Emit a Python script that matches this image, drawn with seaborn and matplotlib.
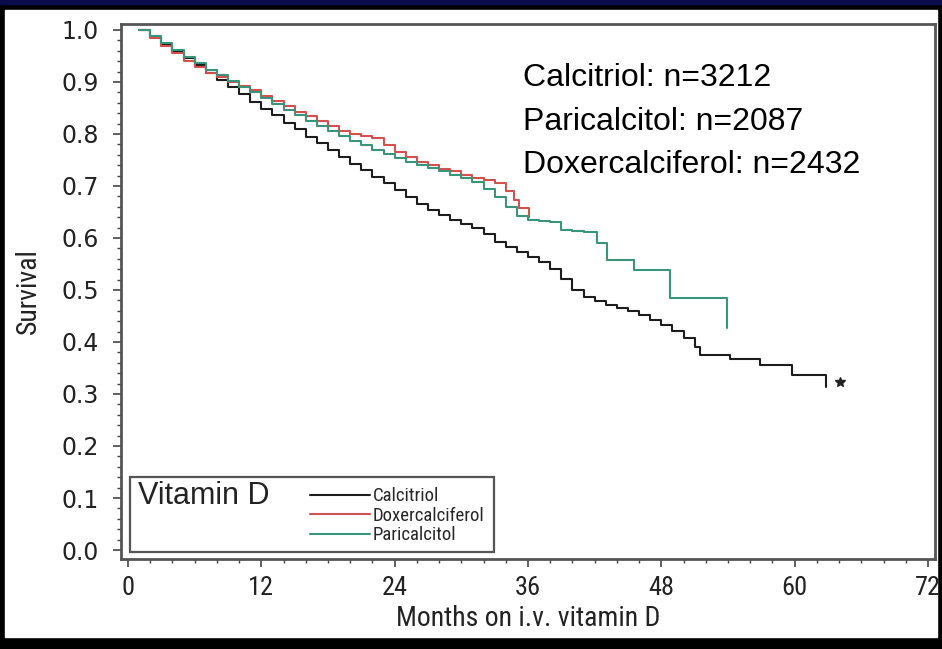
import matplotlib
matplotlib.use('Agg')
import matplotlib.pyplot as plt
from matplotlib import font_manager
from matplotlib.patches import Rectangle
from matplotlib.ticker import MultipleLocator
import pandas as pd
import seaborn as sns

# Kaplan-Meier curves (months, survival)
calcitriol_months = [1, 2, 3, 4, 5, 6, 7, 8, 9, 10, 11, 12, 13, 14, 15, 16, 17, 18, 19, 20,
                     21, 22, 23, 24, 25, 26, 27, 28, 29, 30, 31, 32, 33, 34, 35, 36, 37, 38, 39, 40,
                     41, 42, 43, 44, 45, 46, 47, 48, 49, 50, 51, 51.5, 54.2, 56.9, 59.8, 62.8]
calcitriol_surv = [1.000, 0.986, 0.973, 0.960, 0.946, 0.932, 0.918, 0.904, 0.890, 0.876,
                   0.862, 0.849, 0.836, 0.822, 0.809, 0.795, 0.782, 0.769, 0.756, 0.743,
                   0.731, 0.718, 0.706, 0.692, 0.678, 0.665, 0.654, 0.644, 0.635, 0.627,
                   0.619, 0.607, 0.593, 0.583, 0.574, 0.563, 0.553, 0.540, 0.522, 0.500,
                   0.486, 0.478, 0.471, 0.465, 0.459, 0.451, 0.442, 0.432, 0.421, 0.408,
                   0.390, 0.375, 0.368, 0.356, 0.337, 0.314]

doxer_months = [1, 2, 3, 4, 5, 6, 7, 8, 9, 10, 11, 12, 13, 14, 15, 16, 17, 18, 19, 20,
                21, 22, 23, 24, 25, 26, 27, 28, 29, 30, 31, 32, 33, 34, 34.7, 35.2, 36.1]
doxer_surv = [1.000, 0.985, 0.970, 0.955, 0.940, 0.928, 0.918, 0.909, 0.900, 0.893,
              0.884, 0.874, 0.864, 0.853, 0.843, 0.834, 0.825, 0.815, 0.806, 0.800,
              0.797, 0.793, 0.779, 0.765, 0.755, 0.747, 0.740, 0.733, 0.728, 0.722,
              0.715, 0.712, 0.705, 0.690, 0.673, 0.657, 0.641]

parical_months = [1, 2, 3, 4, 5, 6, 7, 8, 9, 10, 11, 12, 13, 14, 15, 16, 17, 18, 19, 20,
                  21, 22, 23, 24, 25, 26, 27, 28, 29, 30, 31, 32, 33, 34, 35, 36, 37, 38, 39, 40,
                  41, 42.2, 43.1, 45.5, 48.8, 53.9]
parical_surv = [1.000, 0.988, 0.975, 0.961, 0.948, 0.936, 0.924, 0.913, 0.902, 0.891,
                0.880, 0.869, 0.858, 0.847, 0.836, 0.825, 0.815, 0.805, 0.796, 0.787,
                0.778, 0.770, 0.762, 0.754, 0.746, 0.740, 0.734, 0.728, 0.722, 0.716,
                0.708, 0.695, 0.678, 0.660, 0.642, 0.635, 0.632, 0.630, 0.615, 0.613,
                0.612, 0.590, 0.558, 0.538, 0.484, 0.426]

groups = ['Calcitriol', 'Doxercalciferol', 'Paricalcitol']
colors = ['#1c1c1c', '#d2504f', '#3a9479']
counts = ['Calcitriol: n=3212', 'Paricalcitol: n=2087', 'Doxercalciferol: n=2432']
star_month, star_surv = 64.1, 0.324

frames = []
for name, m, s in zip(groups, [calcitriol_months, doxer_months, parical_months],
                      [calcitriol_surv, doxer_surv, parical_surv]):
    frames.append(pd.DataFrame({'Months': m, 'Survival': s, 'Vitamin D': name}))
df = pd.concat(frames, ignore_index=True)

sns.set_theme(style='ticks')
plt.rcParams['font.family'] = ['Liberation Sans', 'DejaVu Sans']

# the SAS plot uses a condensed sans for axis text; take one if installed
ttf = font_manager.fontManager.ttflist
names = {f.name for f in ttf}
narrow = None
for cand in ['Liberation Sans Narrow', 'Arial Narrow', 'Roboto Condensed',
             'Noto Sans Condensed', 'Open Sans Condensed']:
    if cand in names:
        narrow = {'family': cand}
        break
if narrow is None and any(f.name == 'DejaVu Sans' and 'condensed' in str(f.stretch) for f in ttf):
    narrow = {'family': 'DejaVu Sans', 'stretch': 'condensed'}
scale = 1.0
if narrow is None:
    narrow = {'family': 'Liberation Sans'}
    scale = 0.85

W, H = 942, 649
fig = plt.figure(figsize=(W / 100, H / 100), dpi=100, facecolor='black')
fig.patches.append(Rectangle((0, 1 - 4 / H), 1, 4 / H, transform=fig.transFigure,
                             color='#0b0b4a', zorder=-10))
fig.patches.append(Rectangle((5 / W, 12 / H), 932 / W, 627 / H, transform=fig.transFigure,
                             color='white', zorder=-10))

ax = fig.add_axes([121 / W, (H - 559) / H, (935 - 121) / W, (559 - 24) / H])
ax.set_zorder(5)
ax.set_facecolor('white')
sns.lineplot(data=df, x='Months', y='Survival', hue='Vitamin D', hue_order=groups,
             palette=colors, drawstyle='steps-post', estimator=None, sort=False,
             linewidth=1.5, legend=False, ax=ax)
ax.plot([star_month], [star_surv], marker='*', color='#222222', markersize=7, linestyle='none')

ax.set_xlim(-0.63, 72.63)
ax.set_ylim(-0.0173, 1.0115)
ax.xaxis.set_major_locator(MultipleLocator(12))
ax.xaxis.set_minor_locator(MultipleLocator(2))
ax.set_yticks([i / 10 for i in range(11)])
ax.set_yticklabels([f'{i / 10:.1f}' for i in range(11)])
ax.yaxis.set_minor_locator(MultipleLocator(0.02))
ax.tick_params(axis='both', which='major', direction='out', length=6, width=1.2, color='#444444')
ax.tick_params(axis='both', which='minor', direction='out', length=3, width=1.0, color='#444444')
ax.tick_params(axis='y', labelsize=17, labelcolor='#222222', pad=10)
ax.tick_params(axis='x', labelsize=19 * scale, labelcolor='#222222', pad=6)
for lab in ax.get_yticklabels():
    lab.set_family('DejaVu Sans')
for lab in ax.get_xticklabels():
    lab.set(**narrow)
for sp in ax.spines.values():
    sp.set_visible(True)
    sp.set_color('#555555')
    sp.set_linewidth(2.0)

ax.set_xlabel('Months on i.v. vitamin D', fontsize=20 * scale, color='#222222',
              labelpad=4, **narrow)
ax.set_ylabel('Survival', fontsize=20 * scale, color='#222222', labelpad=14, **narrow)

for i, txt in enumerate(counts):
    ax.text(0.494, 0.899 - i * 0.0815, txt, transform=ax.transAxes, fontsize=23,
            va='center', ha='left', color='black')

# legend box
ax.add_patch(Rectangle((0.011, 0.013), 0.447, 0.140, transform=ax.transAxes, fill=False,
                       edgecolor='#555555', linewidth=1.6, zorder=3))
ax.text(0.021, 0.118, 'Vitamin D', transform=ax.transAxes, fontsize=22, va='center',
        ha='left', color='#222222')
leg_font = font_manager.FontProperties(size=13.5 * scale, **narrow)
ax.legend(ax.lines[:3], groups, loc='upper left', bbox_to_anchor=(0.232, 0.134),
          frameon=False, borderpad=0, borderaxespad=0, labelspacing=0.08,
          handlelength=3.2, handletextpad=0.15, prop=leg_font)

fig.savefig('out.png', dpi=100, facecolor=fig.get_facecolor())
